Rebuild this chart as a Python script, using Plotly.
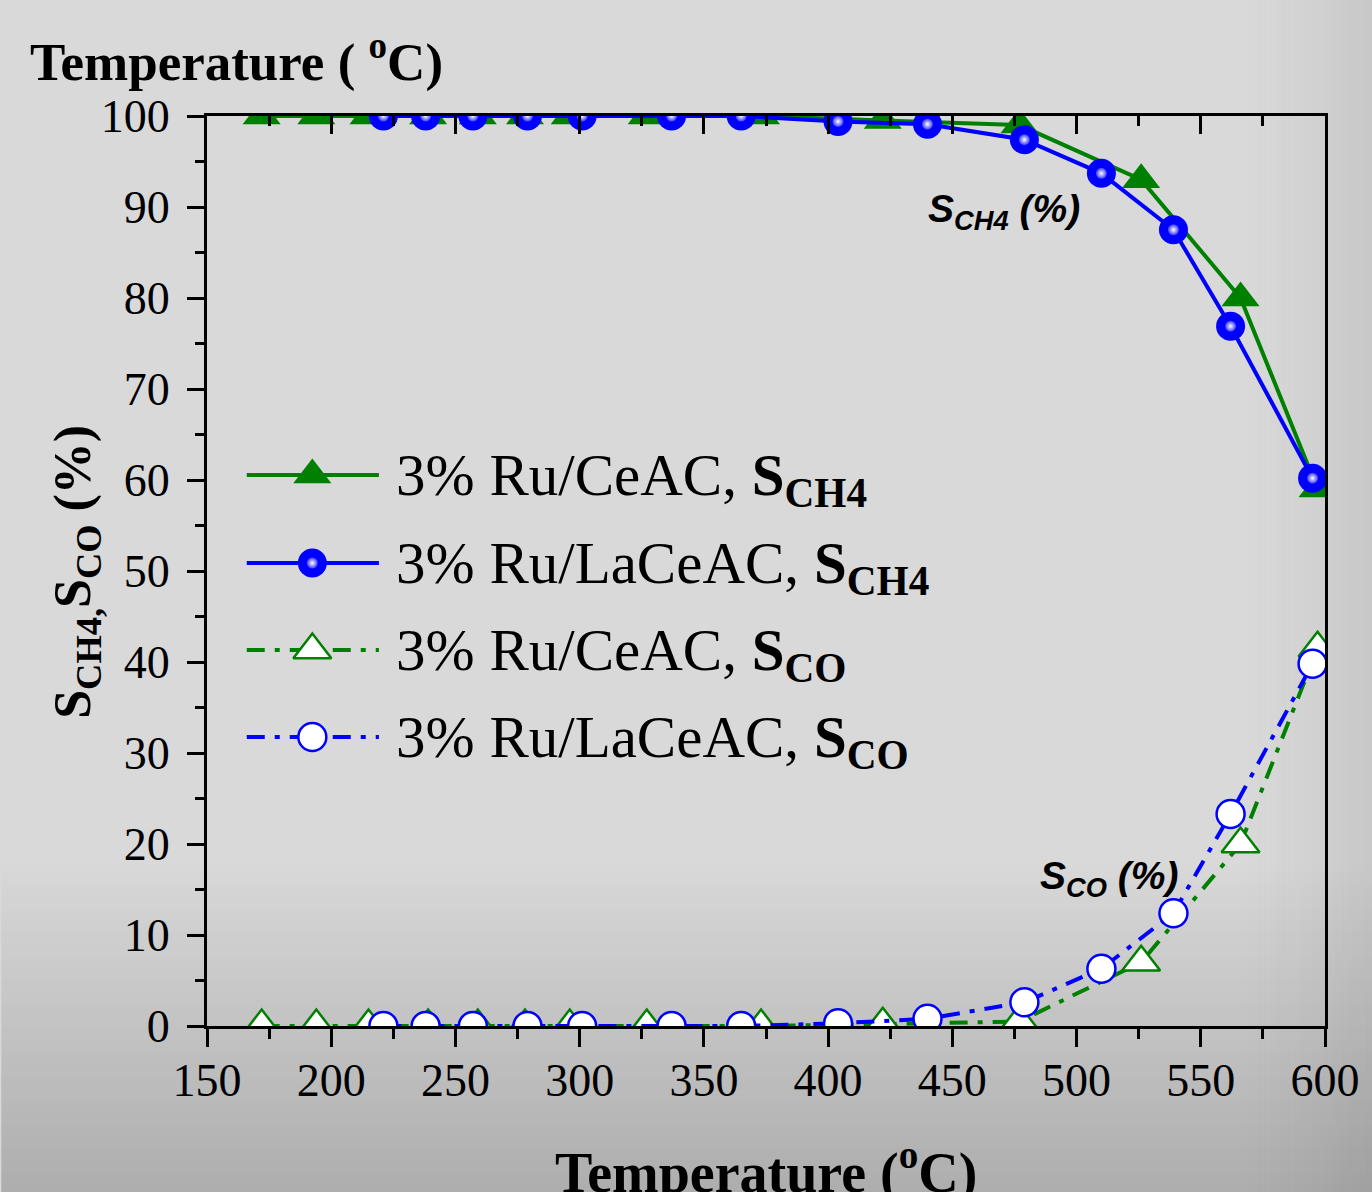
import plotly.graph_objects as go

# ---------------- data ----------------
T_ce = [172, 194, 215, 239, 259, 278, 296, 327, 373, 422, 477, 526, 566, 597]
S_ch4_ce = [100, 100, 100, 100, 100, 100, 100, 100, 100, 99.5, 99.0, 93.0, 80.0, 59.0]
S_co_ce = [0, 0, 0, 0, 0, 0, 0, 0, 0, 0.2, 0.5, 7.0, 20.0, 41.5]

T_la = [221, 238, 257, 279, 301, 337, 365, 404, 440, 479, 510, 539, 562, 595]
S_ch4_la = [100, 100, 100, 100, 100, 100, 100, 99.4, 99.1, 97.4, 93.7, 87.5, 76.9, 60.2]
S_co_la = [0, 0, 0, 0, 0, 0, 0, 0.3, 0.8, 2.6, 6.3, 12.4, 23.3, 39.8]

legend_labels = [
    "3% Ru/CeAC, <b>S<sub>CH4</sub></b>",
    "3% Ru/LaCeAC, <b>S<sub>CH4</sub></b>",
    "3% Ru/CeAC, <b>S<sub>CO</sub></b>",
    "3% Ru/LaCeAC, <b>S<sub>CO</sub></b>",
]
x_ticks = [150, 200, 250, 300, 350, 400, 450, 500, 550, 600]
y_ticks = [0, 10, 20, 30, 40, 50, 60, 70, 80, 90, 100]

# ---------------- layout geometry (pixels) ----------------
W, H = 1372, 1192
L, R, TOP, BOT = 207, 1332, 116, 1026
PW, PH = R - L, BOT - TOP


def fx(px):
    return (px - L) / PW


def fy(py):
    return (BOT - py) / PH


GREEN = "#008000"
BLUE = "#0000ff"
SERIF = "Liberation Serif, Times New Roman, serif"
SANS = "Liberation Sans Narrow, Arial Narrow, Liberation Sans, Arial, sans-serif"
DASHDOT = "18px,10px,5px,10px"

fig = go.Figure()

# main data traces
fig.add_trace(go.Scatter(
    x=T_ce, y=S_ch4_ce, mode="lines+markers",
    line=dict(color=GREEN, width=4),
    marker=dict(symbol="triangle-up", size=33, color=GREEN, line=dict(width=0)),
    showlegend=False))
fig.add_trace(go.Scatter(
    x=T_la, y=S_ch4_la, mode="lines+markers",
    line=dict(color=BLUE, width=4),
    marker=dict(symbol="circle", size=29, color=BLUE, line=dict(width=0)),
    showlegend=False))
# sphere highlight
fig.add_trace(go.Scatter(
    x=T_la, y=S_ch4_la, mode="markers",
    marker=dict(symbol="circle", size=11, color="#3a3aff",
                gradient=dict(type="radial", color="white"), line=dict(width=0)),
    showlegend=False, hoverinfo="skip"))
fig.add_trace(go.Scatter(
    x=T_ce, y=S_co_ce, mode="lines+markers",
    line=dict(color=GREEN, width=4, dash=DASHDOT),
    marker=dict(symbol="triangle-up", size=33, color="white", line=dict(width=2.5, color=GREEN)),
    showlegend=False))
fig.add_trace(go.Scatter(
    x=T_la, y=S_co_la, mode="lines+markers",
    line=dict(color=BLUE, width=4, dash=DASHDOT),
    marker=dict(symbol="circle", size=28, color="white", line=dict(width=2.5, color=BLUE)),
    showlegend=False))

# dummy trace for the top axis
fig.add_trace(go.Scatter(x=[T_ce[0]], y=[S_ch4_ce[0]], xaxis="x2", mode="markers",
                         marker=dict(opacity=0), showlegend=False, hoverinfo="skip"))

# ---------------- manual legend on hidden axes ----------------
row_y = [475, 563, 650, 737]
line_x0, line_x1, mark_x = 247, 380, 313
styles = [
    dict(line=dict(color=GREEN, width=4),
         marker=dict(symbol="triangle-up", size=33, color=GREEN, line=dict(width=0))),
    dict(line=dict(color=BLUE, width=4),
         marker=dict(symbol="circle", size=29, color=BLUE, line=dict(width=0))),
    dict(line=dict(color=GREEN, width=4, dash=DASHDOT),
         marker=dict(symbol="triangle-up", size=33, color="white", line=dict(width=2.5, color=GREEN))),
    dict(line=dict(color=BLUE, width=4, dash=DASHDOT),
         marker=dict(symbol="circle", size=28, color="white", line=dict(width=2.5, color=BLUE))),
]
for i, (ry, st) in enumerate(zip(row_y, styles)):
    fig.add_trace(go.Scatter(
        x=[fx(line_x0), fx(line_x1)], y=[fy(ry), fy(ry)], mode="lines",
        line=st["line"], xaxis="x3", yaxis="y3", showlegend=False,
        hoverinfo="skip", cliponaxis=False))
    fig.add_trace(go.Scatter(
        x=[fx(mark_x)], y=[fy(ry)], mode="markers",
        marker=st["marker"], xaxis="x3", yaxis="y3", showlegend=False,
        hoverinfo="skip", cliponaxis=False))
    if i == 1:
        fig.add_trace(go.Scatter(
            x=[fx(mark_x)], y=[fy(ry)], mode="markers",
            marker=dict(symbol="circle", size=11, color="#3a3aff",
                        gradient=dict(type="radial", color="white"), line=dict(width=0)),
            xaxis="x3", yaxis="y3", showlegend=False, hoverinfo="skip", cliponaxis=False))

annotations = []
for ry, lab in zip(row_y, legend_labels):
    annotations.append(dict(
        text=lab, xref="paper", yref="paper", x=fx(395), y=fy(ry + 4),
        xanchor="left", yanchor="middle", showarrow=False,
        font=dict(family=SERIF, size=59, color="black")))

# titles and labels
annotations.append(dict(
    text="<b>Temperature ( <sup>o</sup>C)</b>", xref="paper", yref="paper",
    x=fx(27), y=fy(23), xanchor="left", yanchor="top", showarrow=False,
    font=dict(family=SERIF, size=53, color="black")))
annotations.append(dict(
    text="<b>Temperature (<sup>o</sup>C)</b>", xref="paper", yref="paper",
    x=fx(770), y=fy(1131), xanchor="center", yanchor="top", showarrow=False,
    font=dict(family=SERIF, size=56, color="black")))
annotations.append(dict(
    text="<b>S<sub>CH4,</sub>S<sub>CO</sub> (%)</b>", xref="paper", yref="paper",
    x=fx(75), y=fy(572), xanchor="center", yanchor="middle", textangle=-90,
    showarrow=False, font=dict(family=SERIF, size=52, color="black")))
annotations.append(dict(
    text="<b><i>S<sub>CH4</sub> (%)</i></b>", xref="paper", yref="paper",
    x=fx(1009), y=fy(212), xanchor="center", yanchor="middle", showarrow=False,
    font=dict(family=SANS, size=39, color="black")))
annotations.append(dict(
    text="<b><i>S<sub>CO</sub> (%)</i></b>", xref="paper", yref="paper",
    x=fx(1115), y=fy(878), xanchor="center", yanchor="middle", showarrow=False,
    font=dict(family=SANS, size=39, color="black")))

# ---------------- background gradient via shapes ----------------
shapes = []
y0 = 860
step = 6
py = y0
while py < H:
    t = (py + step / 2 - y0) / (H - y0)
    shapes.append(dict(type="rect", xref="paper", yref="paper", layer="below",
                       x0=fx(0), x1=fx(W + 10), y0=fy(py + step), y1=fy(py),
                       fillcolor="black", opacity=0.2 * t, line=dict(width=0)))
    py += step
# right side darkening (gradual)
px = 1240
step = 6
while px < W + 10:
    t = min(1.0, (px + step / 2 - 1240) / (W - 1240))
    op = 0.075 * t ** 1.5
    shapes.append(dict(type="rect", xref="paper", yref="paper", layer="below",
                       x0=fx(px), x1=fx(px + step), y0=fy(H), y1=fy(0),
                       fillcolor="black", opacity=op, line=dict(width=0)))
    px += step

axis_font = dict(family=SERIF, size=46, color="black")

fig.update_layout(
    width=W, height=H,
    margin=dict(l=L, r=W - R, t=TOP, b=H - BOT, pad=0),
    paper_bgcolor="#d9d9d9", plot_bgcolor="rgba(0,0,0,0)",
    showlegend=False,
    annotations=annotations, shapes=shapes,
    xaxis=dict(range=[150, 600], tickvals=x_ticks, ticks="outside", ticklen=18,
               tickwidth=3, tickcolor="black", showline=True, linewidth=3,
               linecolor="black", mirror=False, showgrid=False, zeroline=False,
               tickfont=axis_font, ticklabelstandoff=-6, ticklabeloverflow="allow",
               minor=dict(ticks="outside", dtick=25, tick0=150, ticklen=10,
                          tickwidth=3, tickcolor="black", showgrid=False)),
    xaxis2=dict(range=[150, 600], overlaying="x", side="top", matches="x",
                tickvals=x_ticks, ticks="inside", ticklen=18, tickwidth=3,
                tickcolor="black", showline=True, linewidth=3, linecolor="black",
                showticklabels=False, showgrid=False, zeroline=False,
                minor=dict(ticks="inside", dtick=25, tick0=150, ticklen=10,
                           tickwidth=3, tickcolor="black", showgrid=False)),
    yaxis=dict(range=[0, 100], tickvals=y_ticks, ticks="outside", ticklen=17,
               tickwidth=3, tickcolor="black", showline=True, linewidth=3,
               linecolor="black", mirror=True, showgrid=False, zeroline=False,
               tickfont=axis_font, ticklabelstandoff=8, ticklabeloverflow="allow",
               minor=dict(ticks="outside", dtick=5, tick0=0, ticklen=9,
                          tickwidth=3, tickcolor="black", showgrid=False)),
    xaxis3=dict(range=[0, 1], overlaying="x", visible=False, fixedrange=True),
    yaxis3=dict(range=[0, 1], overlaying="y", visible=False, fixedrange=True),
)

fig.write_html("out.html")
